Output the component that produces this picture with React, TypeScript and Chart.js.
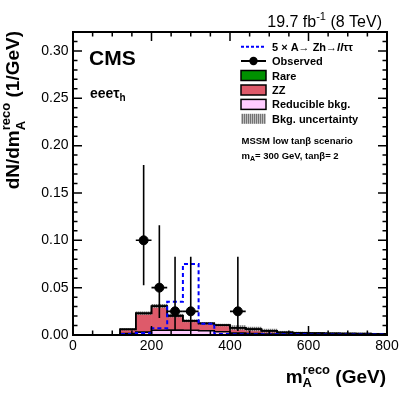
import React, { useEffect, useRef } from "react";
import { Chart, registerables } from "chart.js";
Chart.register(...registerables);

// ---------- data ----------
const binCenters = [20, 60, 100, 140, 180, 220, 260, 300, 340, 380, 420, 460, 500, 540, 580, 620, 660, 700, 740, 780];
const reducible = [0, 0, 0, 0.0015, 0.003, 0.005, 0.0052, 0.005, 0.0045, 0.0035, 0.002, 0.0015, 0.001, 0.0008, 0.0006, 0.0005, 0.0004, 0.0003, 0.0003, 0.0002];
const zz = [0, 0, 0, 0.0044, 0.0198, 0.0254, 0.015, 0.0098, 0.0076, 0.0068, 0.0055, 0.0046, 0.0033, 0.0018, 0.0014, 0.0013, 0.0012, 0.0011, 0.001, 0.0008];
const rare = [0, 0, 0, 0.0001, 0.0002, 0.0002, 0.0003, 0.0002, 0.0002, 0.0002, 0.0002, 0.0002, 0.0002, 0.0002, 0.0002, 0.0002, 0.0002, 0.0002, 0.0002, 0.0002];
const bkgUnc = [0, 0, 0, 0.0008, 0.0015, 0.0018, 0.0015, 0.0012, 0.001, 0.001, 0.0022, 0.002, 0.0017, 0.0012, 0.0009, 0.0008, 0.0008, 0.0007, 0.0007, 0.0006];
const signal = [0, 0, 0, 0.001, 0.002, 0.007, 0.035, 0.075, 0.012, 0.001, 0.0008, 0.0008, 0.0007, 0.0007, 0.0007, 0.0006, 0.0006, 0.0006, 0.0006, 0.0006];
const obsMass = [180, 220, 260, 300, 420];
const obsValue = [0.1, 0.05, 0.025, 0.025, 0.025];
const obsErrDown = [0.0475, 0.032, 0.0207, 0.0207, 0.0207];
const obsErrUp = [0.0795, 0.066, 0.0576, 0.0576, 0.0576];
const obsMassErr = [20, 20, 20, 20, 20];
const binHalfWidth = 20;
const xMin = 0, xMax = 800, yMin = 0, yMax = 0.32;
const xMajorStep = 200, xMinorStep = 50;
const yMajorStep = 0.05, yMinorStep = 0.01;

const FONT = "'Liberation Sans', Arial, Helvetica, sans-serif";
const RED = "#de5a6a";
const PINK = "#ffccff";
const GREEN = "#009000";
const BLUE = "#0000ff";

type Seg = { t: string; size: number; bold?: boolean; italic?: boolean; dy?: number; overlap?: boolean };

function segFont(s: Seg) {
  return `${s.italic ? "italic " : ""}${s.bold ? "bold " : ""}${s.size}px ${FONT}`;
}
function richWidth(ctx: CanvasRenderingContext2D, segs: Seg[]) {
  let w = 0, pend = -1;
  for (const s of segs) {
    ctx.font = segFont(s);
    const sw = ctx.measureText(s.t).width;
    if (s.overlap) { pend = sw; continue; }
    w += pend >= 0 ? Math.max(pend, sw) : sw;
    pend = -1;
  }
  return w;
}
function drawRich(ctx: CanvasRenderingContext2D, x: number, y: number, segs: Seg[], align: "left" | "right" = "left") {
  let cx = align === "right" ? x - richWidth(ctx, segs) : x;
  let pend = -1;
  ctx.textAlign = "left";
  ctx.textBaseline = "alphabetic";
  for (const s of segs) {
    ctx.font = segFont(s);
    const sw = ctx.measureText(s.t).width;
    ctx.fillText(s.t, cx, y + (s.dy || 0));
    if (s.overlap) { pend = sw; continue; }
    cx += pend >= 0 ? Math.max(pend, sw) : sw;
    pend = -1;
  }
}

function makePattern(): CanvasPattern | string {
  const c = document.createElement("canvas");
  c.width = 2; c.height = 2;
  const g = c.getContext("2d");
  if (!g) return "rgba(120,120,120,0.7)";
  g.fillStyle = "rgba(90,90,90,0.85)";
  g.fillRect(0, 0, 1, 2);
  g.fillStyle = "rgba(170,170,170,0.75)";
  g.fillRect(1, 0, 1, 2);
  const p = g.createPattern(c, "repeat");
  return p || "rgba(120,120,120,0.7)";
}

const decorPlugin = {
  id: "decor",
  afterDatasetsDraw(chart: any) {
    const ctx: CanvasRenderingContext2D = chart.ctx;
    const xs = chart.scales.x, ys = chart.scales.y;
    ctx.save();
    ctx.strokeStyle = "#000";
    ctx.lineWidth = 1.6;
    for (let i = 0; i < obsMass.length; i++) {
      const px = xs.getPixelForValue(obsMass[i]);
      const py = ys.getPixelForValue(obsValue[i]);
      ctx.beginPath();
      ctx.moveTo(px, ys.getPixelForValue(obsValue[i] - obsErrDown[i]));
      ctx.lineTo(px, ys.getPixelForValue(obsValue[i] + obsErrUp[i]));
      ctx.moveTo(xs.getPixelForValue(obsMass[i] - obsMassErr[i]), py);
      ctx.lineTo(xs.getPixelForValue(obsMass[i] + obsMassErr[i]), py);
      ctx.stroke();
    }
    ctx.restore();
  },
  afterDraw(chart: any) {
    const ctx: CanvasRenderingContext2D = chart.ctx;
    const { left, right, top, bottom } = chart.chartArea;
    const xs = chart.scales.x, ys = chart.scales.y;
    ctx.save();
    // frame
    ctx.strokeStyle = "#000";
    ctx.lineWidth = 2;
    ctx.strokeRect(left, top, right - left, bottom - top);
    // ticks
    ctx.lineWidth = 1.5;
    ctx.beginPath();
    for (let v = xMin; v <= xMax + 1e-6; v += xMinorStep) {
      const px = xs.getPixelForValue(v);
      const len = Math.abs(v % xMajorStep) < 1e-6 ? 9 : 4.5;
      ctx.moveTo(px, bottom); ctx.lineTo(px, bottom - len);
      ctx.moveTo(px, top); ctx.lineTo(px, top + len);
    }
    for (let k = 0; k * yMinorStep <= yMax + 1e-9; k++) {
      const v = k * yMinorStep;
      const py = ys.getPixelForValue(v);
      const len = k % 5 === 0 ? 9 : 4.5;
      ctx.moveTo(left, py); ctx.lineTo(left + len, py);
      ctx.moveTo(right, py); ctx.lineTo(right - len, py);
    }
    ctx.stroke();

    ctx.fillStyle = "#000";
    // top right lumi
    drawRich(ctx, 382, 27, [
      { t: "19.7 fb", size: 16 },
      { t: "-1", size: 11, dy: -7 },
      { t: " (8 TeV)", size: 16 },
    ], "right");
    // CMS
    drawRich(ctx, 89, 65, [{ t: "CMS", size: 21, bold: true }]);
    // channel
    drawRich(ctx, 90, 97.5, [
      { t: "eee\u03c4", size: 14, bold: true },
      { t: "h", size: 10, bold: true, dy: 3.5 },
    ]);
    // x title
    drawRich(ctx, 386, 383, [
      { t: "m", size: 19, bold: true },
      { t: "A", size: 13, bold: true, dy: 4, overlap: true },
      { t: "reco", size: 13, bold: true, dy: -9 },
      { t: " (GeV)", size: 19, bold: true },
    ], "right");
    // y title
    ctx.save();
    ctx.translate(19, 31);
    ctx.rotate(-Math.PI / 2);
    drawRich(ctx, 0, 0, [
      { t: "dN/dm", size: 19, bold: true },
      { t: "A", size: 13, bold: true, dy: 6, overlap: true },
      { t: "reco", size: 13, bold: true, dy: -9 },
      { t: " (1/GeV)", size: 19, bold: true },
    ], "right");
    ctx.restore();

    // legend
    const lx0 = 241, lx1 = 266, tx = 272;
    const rows = [46.7, 61, 75.5, 90, 104.4, 118.8];
    ctx.lineWidth = 2;
    ctx.strokeStyle = BLUE;
    ctx.setLineDash([3, 2]);
    ctx.beginPath(); ctx.moveTo(lx0, rows[0]); ctx.lineTo(lx1, rows[0]); ctx.stroke();
    ctx.setLineDash([]);
    ctx.strokeStyle = "#000";
    ctx.beginPath(); ctx.moveTo(lx0, rows[1]); ctx.lineTo(lx1, rows[1]); ctx.stroke();
    ctx.beginPath(); ctx.arc((lx0 + lx1) / 2, rows[1], 4.2, 0, Math.PI * 2); ctx.fill();
    const boxes: [number, string | CanvasPattern, boolean][] = [
      [rows[2], GREEN, true], [rows[3], RED, true], [rows[4], PINK, true], [rows[5], chart.$bandPattern || "#999", false],
    ];
    for (const [cy, col, border] of boxes) {
      ctx.fillStyle = col as any;
      ctx.fillRect(lx0, cy - 5, lx1 - lx0, 10);
      if (border) {
        ctx.lineWidth = 1.5;
        ctx.strokeStyle = "#000";
        ctx.strokeRect(lx0, cy - 5, lx1 - lx0, 10);
      }
    }
    ctx.fillStyle = "#000";
    drawRich(ctx, tx, rows[0] + 4, [
      { t: "5 \u00d7 A\u2192 Zh\u2192", size: 11, bold: true },
      { t: "ll", size: 11, bold: true, italic: true },
      { t: "\u03c4\u03c4", size: 11, bold: true },
    ]);
    drawRich(ctx, tx, rows[1] + 4, [{ t: "Observed", size: 11, bold: true }]);
    drawRich(ctx, tx, rows[2] + 4, [{ t: "Rare", size: 11, bold: true }]);
    drawRich(ctx, tx, rows[3] + 4, [{ t: "ZZ", size: 11, bold: true }]);
    drawRich(ctx, tx, rows[4] + 4, [{ t: "Reducible bkg.", size: 11, bold: true }]);
    drawRich(ctx, tx, rows[5] + 4, [{ t: "Bkg. uncertainty", size: 11, bold: true }]);
    drawRich(ctx, 241.5, 144, [{ t: "MSSM low tan\u03b2 scenario", size: 9.5, bold: true }]);
    drawRich(ctx, 241.5, 158.5, [
      { t: "m", size: 9.5, bold: true },
      { t: "A", size: 7, bold: true, dy: 2.5 },
      { t: "= 300 GeV, tan\u03b2= 2", size: 9.5, bold: true },
    ]);
    ctx.restore();
  },
};

function stepPoints(vals: number[]) {
  const pts = [{ x: binCenters[0] - binHalfWidth, y: vals[0] }];
  binCenters.forEach((c, i) => pts.push({ x: c, y: vals[i] }));
  pts.push({ x: binCenters[binCenters.length - 1] + binHalfWidth, y: vals[vals.length - 1] });
  return pts;
}

export default function App() {
  const ref = useRef<HTMLCanvasElement>(null);
  useEffect(() => {
    if (!ref.current) return;
    const pattern = makePattern();
    const totals = binCenters.map((_, i) => reducible[i] + zz[i] + rare[i]);
    const band = binCenters.map((c, i) =>
      totals[i] > 0 ? { x: c, y: [totals[i] - bkgUnc[i], totals[i] + bkgUnc[i]] } : { x: c, y: null }
    );
    const barCommon = {
      type: "bar" as const,
      grouped: false,
      barPercentage: 1,
      categoryPercentage: 1,
      borderWidth: 0,
      order: 5,
      stack: "bkg",
    };
    const outline = (vals: number[], label: string) => ({
      type: "line" as const,
      label,
      data: stepPoints(vals),
      stepped: "middle" as const,
      borderColor: "#000",
      borderWidth: 1.6,
      pointRadius: 0,
      fill: false,
      order: 3,
      stack: "outline",
    });
    const chart = new Chart(ref.current, {
      data: {
        datasets: [
          { ...barCommon, label: "Reducible bkg.", data: binCenters.map((c, i) => ({ x: c, y: reducible[i] })), backgroundColor: PINK },
          { ...barCommon, label: "ZZ", data: binCenters.map((c, i) => ({ x: c, y: zz[i] })), backgroundColor: RED },
          { ...barCommon, label: "Rare", data: binCenters.map((c, i) => ({ x: c, y: rare[i] })), backgroundColor: GREEN },
          {
            type: "bar", label: "Bkg. uncertainty", data: band as any, grouped: false,
            barPercentage: 1, categoryPercentage: 1, borderWidth: 0, backgroundColor: pattern as any, order: 4,
          },
          outline(reducible, "o1"),
          outline(zz, "o2"),
          outline(rare, "o3"),
          {
            type: "line", label: "signal", data: stepPoints(signal), stepped: "middle",
            borderColor: BLUE, borderWidth: 2, borderDash: [4, 3], pointRadius: 0, fill: false, order: 2,
          },
          {
            type: "line", label: "Observed", data: obsMass.map((m, i) => ({ x: m, y: obsValue[i] })),
            showLine: false, pointRadius: 4.5, pointBackgroundColor: "#000", pointBorderColor: "#000", order: 1,
          },
        ] as any,
      },
      options: {
        animation: false,
        responsive: false,
        devicePixelRatio: 1,
        layout: { padding: { left: 0, right: 20, top: 32, bottom: 0 } },
        plugins: { legend: { display: false }, tooltip: { enabled: false } },
        scales: {
          x: {
            type: "linear", min: xMin, max: xMax, offset: false,
            grid: { display: false, drawTicks: false, offset: false },
            border: { display: false },
            ticks: {
              stepSize: xMajorStep, padding: 3, autoSkip: false, maxRotation: 0, includeBounds: false,
              color: "#000", font: { family: FONT, size: 14 },
            },
            afterFit: (s: any) => { s.height = 60; },
          },
          y: {
            type: "linear", min: yMin, max: yMax,
            grid: { display: false, drawTicks: false },
            border: { display: false },
            ticks: {
              stepSize: yMajorStep, padding: 4.5, includeBounds: false,
              color: "#000", font: { family: FONT, size: 14 },
              callback: (v: any) => Number(v).toFixed(2),
            },
            afterFit: (s: any) => { s.width = 73; },
          },
        },
      } as any,
      plugins: [decorPlugin as any],
    });
    (chart as any).$bandPattern = pattern;
    chart.draw();
    return () => chart.destroy();
  }, []);
  return (
    <div style={{ position: "absolute", left: 0, top: 0, width: 407, height: 395, background: "#fff" }}>
      <canvas ref={ref} width={407} height={395} style={{ display: "block" }} />
    </div>
  );
}
